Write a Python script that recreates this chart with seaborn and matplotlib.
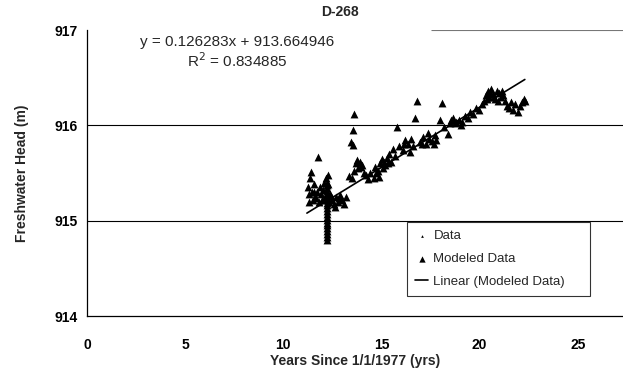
import matplotlib
matplotlib.use("Agg")
import matplotlib.pyplot as plt
import seaborn as sns
import pandas as pd

# ---- data ----
model_x = [11.25, 11.3, 11.35, 11.4, 11.45, 11.5, 11.55, 11.6, 11.7, 11.75, 11.8, 11.85,
           11.9, 11.95, 12.0, 12.05, 12.1, 12.15, 12.25, 12.29, 12.35, 12.4, 12.5, 12.6,
           12.7, 12.8, 12.9, 13.0, 13.1, 13.2, 13.36, 11.3, 11.55, 11.65, 12.45, 12.65, 12.85,
           12.2, 12.2, 12.2, 12.2, 12.2, 12.2, 12.2, 12.2, 12.2, 12.2, 12.2,
           12.2, 12.2, 12.2, 12.2, 12.2, 12.2, 12.2, 12.2, 12.2, 12.2,
           13.44, 13.53, 13.56, 13.61, 13.5, 13.6, 13.7, 13.8, 13.9, 14.0, 14.1, 14.2,
           14.3, 14.4, 14.6, 14.7, 14.8, 14.9, 15.0, 15.1, 15.2, 15.3, 15.4, 15.5,
           15.6, 15.7, 15.8, 15.9, 16.1, 16.2, 16.35, 16.5, 16.6, 16.73, 16.79,
           13.75, 13.95, 14.65, 14.85, 15.15, 15.35, 16.15, 16.45,
           16.95, 17.1, 17.25, 17.4, 17.55, 17.7, 17.8, 17.97, 18.09, 18.2, 18.37,
           17.05, 17.35, 17.65, 18.55, 18.75, 19.05,
           18.5, 18.65, 18.8, 18.95, 19.1, 19.25, 19.4, 19.5, 19.65, 19.8, 19.95,
           20.1, 20.2, 20.3, 20.4, 20.5, 20.6, 20.7, 20.8, 20.9, 21.0, 21.1, 21.2,
           20.35, 20.55, 20.75, 20.95, 21.15,
           21.3, 21.4, 21.5, 21.6, 21.7, 21.8, 21.94, 22.05, 22.15, 22.25, 22.3]
model_y = [915.35, 915.28, 915.45, 915.51, 915.30, 915.22, 915.38, 915.25, 915.30, 915.67, 915.20, 915.35,
           915.28, 915.22, 915.32, 915.40, 915.25, 915.45, 915.38, 915.48, 915.20, 915.28, 915.22, 915.18,
           915.25, 915.20, 915.27, 915.22, 915.18, 915.25, 915.47, 915.20, 915.30, 915.24, 915.26, 915.14, 915.24,
           915.40, 915.37, 915.34, 915.31, 915.28, 915.25, 915.22, 915.19, 915.16, 915.13, 915.10,
           915.07, 915.04, 915.01, 914.98, 914.95, 914.92, 914.89, 914.86, 914.83, 914.80,
           915.83, 915.79, 915.95, 916.12, 915.45, 915.52, 915.60, 915.55, 915.62, 915.58, 915.50, 915.48,
           915.44, 915.50, 915.45, 915.50, 915.52, 915.60, 915.65, 915.55, 915.58, 915.66, 915.70, 915.62,
           915.75, 915.68, 915.98, 915.78, 915.74, 915.85, 915.80, 915.86, 915.78, 916.08, 916.26,
           915.64, 915.56, 915.56, 915.46, 915.62, 915.60, 915.80, 915.72,
           915.82, 915.88, 915.80, 915.86, 915.84, 915.90, 915.85, 916.06, 916.23, 915.98, 915.91,
           915.80, 915.92, 915.80, 916.06, 916.02, 916.00,
           916.02, 916.08, 916.04, 916.06, 916.04, 916.10, 916.08, 916.14, 916.12, 916.18, 916.16,
           916.22, 916.26, 916.32, 916.36, 916.30, 916.38, 916.33, 916.28, 916.36, 916.34, 916.30, 916.32,
           916.28, 916.34, 916.30, 916.26, 916.36,
           916.26, 916.20, 916.18, 916.24, 916.16, 916.22, 916.14, 916.20, 916.24, 916.28, 916.26]

data_x = model_x
data_y = model_y

slope, intercept = 0.126283, 913.664946
r2 = 0.834885
fit_x = [11.2, 22.3]

title = "D-268"
xlabel = "Years Since 1/1/1977 (yrs)"
ylabel = "Freshwater Head (m)"
xticks = [0, 5, 10, 15, 20, 25]
yticks = [914, 915, 916, 917]

# ---- figure ----
sns.set_theme(style="white")
plt.rcParams["font.family"] = ["Liberation Sans", "DejaVu Sans"]

fig = plt.figure(figsize=(6.23, 3.79), dpi=100)
ax = fig.add_axes([87/623, 1-316/379, 1-87/623, (316-30)/379])

dfm = pd.DataFrame({"x": model_x, "y": model_y})
dfd = pd.DataFrame({"x": data_x, "y": data_y})
fit_df = pd.DataFrame({"x": fit_x, "y": [slope*v + intercept for v in fit_x]})

sns.scatterplot(data=dfd, x="x", y="y", ax=ax, marker="^", s=6, color="black",
                edgecolor="black", linewidth=0, label="Data", zorder=3)
sns.scatterplot(data=dfm, x="x", y="y", ax=ax, marker="^", s=32, color="black",
                edgecolor="black", linewidth=0, label="Modeled Data", zorder=4)
sns.lineplot(data=fit_df, x="x", y="y", ax=ax, color="black", linewidth=1.2,
             label="Linear (Modeled Data)", zorder=5)

ax.set_xlim(0, 27.3)
ax.set_ylim(914, 917)
ax.set_xticks(xticks)
ax.set_yticks(yticks)
ax.tick_params(axis="both", direction="out", length=4, width=0.8, colors="black",
               labelsize=10, pad=3)
ax.tick_params(axis="x", pad=12)
for lab in ax.get_xticklabels() + ax.get_yticklabels():
    lab.set_fontweight("bold")

for s in ["top", "right"]:
    ax.spines[s].set_visible(False)
for s in ["left", "bottom"]:
    ax.spines[s].set_color("black")
    ax.spines[s].set_linewidth(0.9)

for yv in [915, 916]:
    ax.axhline(yv, color="black", linewidth=0.8, zorder=1)
ax.hlines(917, 17.5, 27.3, color="#777777", linewidth=0.8, zorder=1)

ax.set_xlabel(xlabel, fontsize=10, fontweight="bold", labelpad=1)
ax.set_ylabel(ylabel, fontsize=10, fontweight="bold", labelpad=18)

fig.text(340/623, 1-12/379, title, ha="center", va="center", fontsize=10, fontweight="bold")
ax.text(7.64, 916.87, f"y = {slope:.6f}x + {intercept:.6f}", ha="center", va="center", fontsize=11)
ax.text(7.64, 916.68, f"R$^2$ = {r2:.6f}", ha="center", va="center", fontsize=11)

leg = ax.legend(loc="lower left", bbox_to_anchor=(0.597, 0.070, 0.341, 0.274), mode="expand",
                frameon=True, fancybox=False, fontsize=9.5, handlelength=1.0, handletextpad=0.4,
                borderpad=0.6, labelspacing=0.8, markerscale=0.8, borderaxespad=0)
leg.get_frame().set_edgecolor("black")
leg.get_frame().set_linewidth(0.8)

fig.savefig("out.png", dpi=100)
